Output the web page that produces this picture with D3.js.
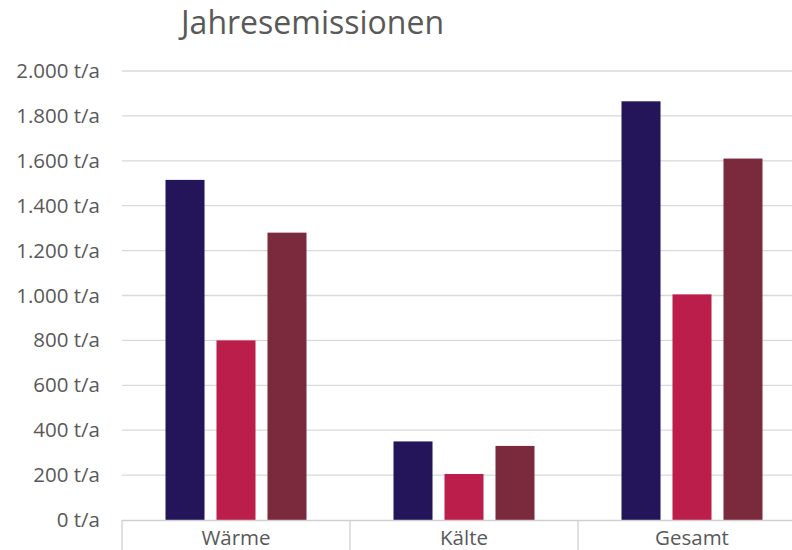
<!DOCTYPE html>
<html>
<head>
<meta charset="utf-8">
<script src="https://cdn.jsdelivr.net/npm/d3@7"></script>
<style>
  html, body { margin: 0; padding: 0; background: #fff; }
  svg { display: block; }
  text { font-family: "Open Sans", "Noto Sans", sans-serif; fill: #595959; }
</style>
</head>
<body>
<svg id="chart" width="792" height="550"></svg>
<script>
// Annual emissions in t/a per category and scenario
const categories = ["Wärme", "Kälte", "Gesamt"];
const seriesNames = ["Szenario 1", "Szenario 2", "Szenario 3"];
const series1 = [1515, 350, 1865];
const series2 = [800, 205, 1005];
const series3 = [1280, 330, 1610];
const seriesColors = ["#24155a", "#bb1e4b", "#7b2a3e"];
const yTicks = [0, 200, 400, 600, 800, 1000, 1200, 1400, 1600, 1800, 2000];

const values = [series1, series2, series3];

const svg = d3.select("#chart");
const plotLeft = 122, plotRight = 806, plotTop = 71, plotBottom = 520;

const x = d3.scaleBand().domain(categories).range([plotLeft, plotRight]).paddingInner(0).paddingOuter(0);
const inner = d3.scaleBand().domain(seriesNames).range([0, x.bandwidth()]).paddingInner(0.235).paddingOuter(0.853);
const y = d3.scaleLinear().domain([0, 2000]).range([plotBottom, plotTop]);

const fmt = v => d3.format(",")(v).replace(/,/g, ".") + " t/a";

// gridlines
svg.append("g")
  .selectAll("line")
  .data(yTicks.filter(d => d > 0))
  .join("line")
  .attr("x1", plotLeft).attr("x2", 792)
  .attr("y1", d => y(d)).attr("y2", d => y(d))
  .attr("stroke", "#d9d9d9").attr("stroke-width", 1.3);

// y-axis labels
const yAxis = d3.axisLeft(y).tickValues(yTicks).tickFormat(fmt).tickSize(0).tickPadding(0);
const gy = svg.append("g").attr("transform", `translate(100,0)`).call(yAxis);
gy.select(".domain").remove();
gy.selectAll("text").style("font-size", "20.5px").attr("fill", "#595959")
  .style("font-family", "'Open Sans', 'Noto Sans', sans-serif");

// bars
const rows = categories.map((c, i) => ({ c, vals: values.map((s, j) => ({ name: seriesNames[j], v: s[i], color: seriesColors[j] })) }));
svg.append("g")
  .selectAll("g")
  .data(rows)
  .join("g")
  .attr("transform", d => `translate(${x(d.c)},0)`)
  .selectAll("rect")
  .data(d => d.vals)
  .join("rect")
  .attr("x", d => inner(d.name))
  .attr("width", inner.bandwidth())
  .attr("y", d => y(d.v))
  .attr("height", d => y(0) - y(d.v))
  .attr("fill", d => d.color);

// x axis with category separators
const xAxis = d3.axisBottom(x).tickSize(0).tickPadding(0);
const gx = svg.append("g").attr("transform", `translate(0,${plotBottom})`).call(xAxis);
gx.select(".domain").remove();
gx.append("line").attr("x1", plotLeft).attr("x2", 792).attr("y1", 0.5).attr("y2", 0.5)
  .attr("stroke", "#d0d0d0").attr("stroke-width", 1.3);
gx.selectAll(".sep")
  .data([plotLeft, ...categories.map(c => x(c) + x.bandwidth())])
  .join("line")
  .attr("class", "sep")
  .attr("x1", d => d).attr("x2", d => d)
  .attr("y1", 0).attr("y2", 30)
  .attr("stroke", "#d0d0d0").attr("stroke-width", 1.3);
gx.selectAll(".tick text")
  .attr("y", 25)
  .attr("dy", 0)
  .style("font-size", "20.5px")
  .style("font-family", "'Open Sans', 'Noto Sans', sans-serif")
  .attr("fill", "#595959");

// title
svg.append("text")
  .attr("x", 181).attr("y", 34)
  .style("font-size", "32px")
  .text("Jahresemissionen");
</script>
</body>
</html>
